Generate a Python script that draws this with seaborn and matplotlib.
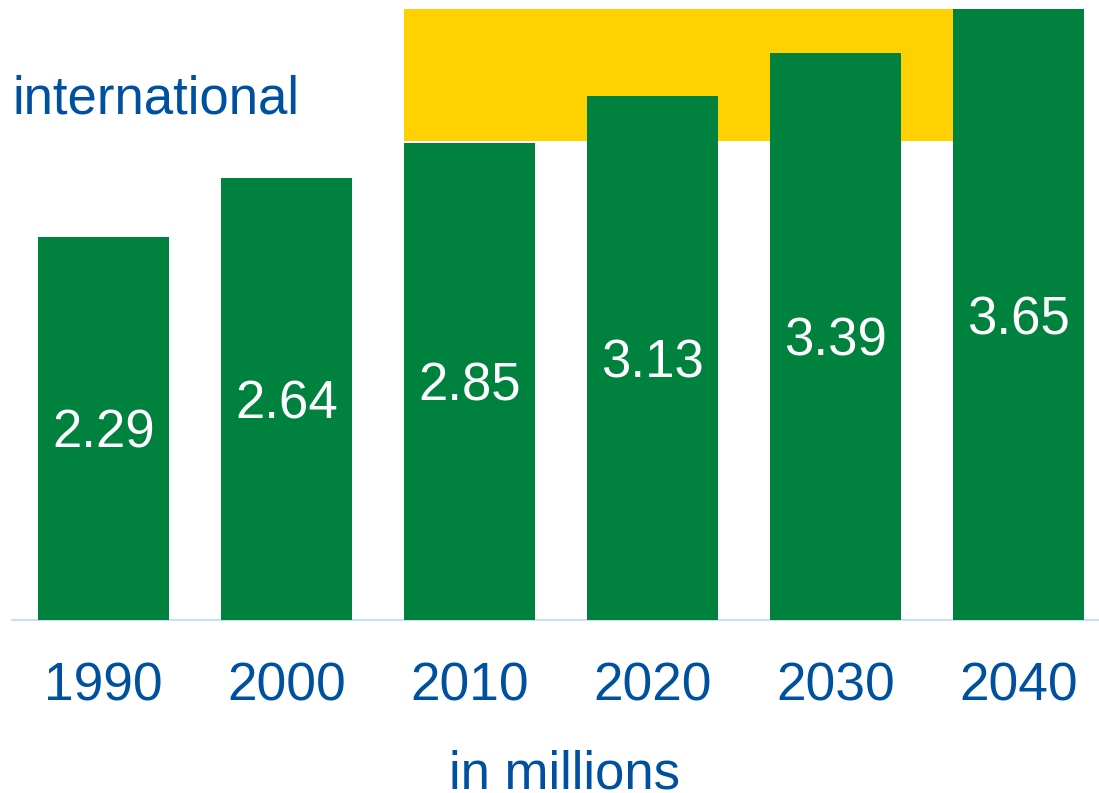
import matplotlib
matplotlib.use("Agg")
import matplotlib.pyplot as plt
import matplotlib.transforms as mtransforms
from matplotlib.patches import Rectangle
import seaborn as sns
import pandas as pd

# data
years = ["1990", "2000", "2010", "2020", "2030", "2040"]
values = [2.29, 2.64, 2.85, 3.13, 3.39, 3.65]
highlight_years = ["2010", "2040"]   # yellow band runs from 2010 bar to 2040 bar

GREEN = "#00823F"
YELLOW = "#FFD100"
BLUE = "#0050A0"
LINE = "#C8E2F5"

sns.set_theme(style="white")
plt.rcParams["font.family"] = ["Liberation Sans", "DejaVu Sans"]

df = pd.DataFrame({"year": years, "value": values})

fig = plt.figure(figsize=(10.99, 7.93), dpi=100)
ax = fig.add_axes([12 / 1099, 173 / 793, 1 - 12 / 1099, 620 / 793])

bar_w = 0.716
sns.barplot(data=df, x="year", y="value", color=GREEN, saturation=1,
            width=bar_w, linewidth=0, ax=ax, zorder=2)

# yellow background band
i0 = years.index(highlight_years[0])
i1 = years.index(highlight_years[1])
band = Rectangle((i0 - bar_w / 2, 2.86), i1 - i0, max(values) - 2.86,
                 facecolor=YELLOW, edgecolor="none", zorder=1)
ax.add_patch(band)

for i, v in enumerate(values):
    ax.text(i, v / 2, f"{v:.2f}", ha="center", va="center_baseline",
            color="white", fontsize=38, zorder=3)

ax.set_xlim(-0.5, 5.44)
ax.set_ylim(0, 3.704)
ax.set_xlabel("")
ax.set_ylabel("")
ax.set_yticks([])
ax.tick_params(axis="x", length=0, pad=30, labelsize=38.3, labelcolor=BLUE)
for s in ["top", "right", "left"]:
    ax.spines[s].set_visible(False)
ax.spines["bottom"].set_color(LINE)
ax.spines["bottom"].set_linewidth(1.5)
ax.spines["bottom"].set_zorder(1.5)

trans = mtransforms.blended_transform_factory(ax.transData, ax.transAxes)
ax.text(2.52, -0.271, "in millions", transform=trans, ha="center",
        va="baseline", color=BLUE, fontsize=38, clip_on=False)

fig.text(12 / 1099, 1 - 113 / 793, "international", ha="left",
         va="baseline", color=BLUE, fontsize=38)

fig.savefig("out.png", dpi=100, facecolor="white")
